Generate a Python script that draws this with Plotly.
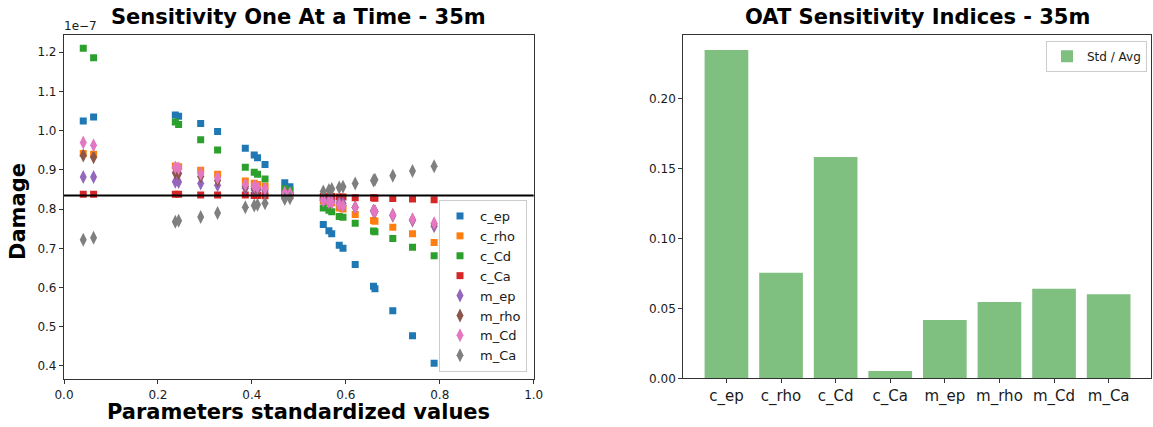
import plotly.graph_objects as go

# ---------------- data ----------------
x_std = [0.041, 0.063, 0.237, 0.244, 0.291, 0.327, 0.386, 0.405, 0.412, 0.428,
         0.470, 0.481, 0.552, 0.564, 0.570, 0.586, 0.594, 0.620, 0.659, 0.662,
         0.700, 0.742, 0.788]

c_ep = [1.025, 1.035, 1.040, 1.037, 1.018, 0.998, 0.955, 0.938, 0.931, 0.914,
        0.867, 0.857, 0.761, 0.745, 0.737, 0.708, 0.700, 0.659, 0.603, 0.597,
        0.541, 0.477, 0.407]
c_rho = [0.942, 0.940, 0.910, 0.908, 0.899, 0.889, 0.872, 0.866, 0.863, 0.858,
         0.846, 0.843, 0.822, 0.818, 0.816, 0.803, 0.800, 0.786, 0.771, 0.769,
         0.754, 0.737, 0.715]
c_Cd = [1.210, 1.186, 1.022, 1.016, 0.977, 0.951, 0.907, 0.894, 0.889, 0.877,
        0.852, 0.848, 0.803, 0.797, 0.793, 0.781, 0.779, 0.764, 0.744, 0.742,
        0.725, 0.703, 0.681]
c_Ca = [0.838, 0.838, 0.838, 0.838, 0.836, 0.836, 0.836, 0.835, 0.835, 0.834,
        0.834, 0.834, 0.832, 0.832, 0.832, 0.831, 0.831, 0.829, 0.829, 0.828,
        0.827, 0.826, 0.824]
m_ep = [0.882, 0.882, 0.870, 0.869, 0.865, 0.861, 0.853, 0.849, 0.848, 0.846,
        0.840, 0.838, 0.826, 0.823, 0.821, 0.816, 0.814, 0.805, 0.795, 0.794,
        0.783, 0.771, 0.756]
m_rho = [0.937, 0.932, 0.893, 0.891, 0.883, 0.873, 0.858, 0.853, 0.852, 0.849,
         0.840, 0.838, 0.822, 0.819, 0.817, 0.811, 0.809, 0.804, 0.796, 0.794,
         0.785, 0.773, 0.762]
m_Cd = [0.970, 0.963, 0.906, 0.904, 0.890, 0.880, 0.863, 0.858, 0.856, 0.852,
        0.842, 0.840, 0.822, 0.818, 0.816, 0.811, 0.808, 0.804, 0.796, 0.794,
        0.785, 0.774, 0.764]
m_Ca = [0.722, 0.727, 0.768, 0.770, 0.780, 0.790, 0.805, 0.809, 0.811, 0.815,
        0.826, 0.828, 0.845, 0.849, 0.851, 0.855, 0.857, 0.865, 0.873, 0.875,
        0.885, 0.897, 0.909]
reference_damage = 0.835

series_names = ["c_ep", "c_rho", "c_Cd", "c_Ca", "m_ep", "m_rho", "m_Cd", "m_Ca"]
series_values = [c_ep, c_rho, c_Cd, c_Ca, m_ep, m_rho, m_Cd, m_Ca]
series_colors = ["#1f77b4", "#ff7f0e", "#2ca02c", "#d62728",
                 "#9467bd", "#8c564b", "#e377c2", "#7f7f7f"]

bar_categories = ["c_ep", "c_rho", "c_Cd", "c_Ca", "m_ep", "m_rho", "m_Cd", "m_Ca"]
bar_values = [0.2348, 0.0755, 0.1583, 0.0052, 0.0417, 0.0546, 0.0641, 0.0601]

W, H = 1153, 427
FONT = "DejaVu Sans"

fig = go.Figure()

for name, vals, col in zip(series_names, series_values, series_colors):
    sym = "square" if name.startswith("c_") else "diamond-tall"
    size = 7 if sym == "square" else 10
    fig.add_trace(go.Scatter(
        x=x_std, y=vals, mode="markers", name=name,
        marker=dict(symbol=sym, size=size, color=col, line=dict(width=0)),
        xaxis="x", yaxis="y", legend="legend",
    ))

fig.add_trace(go.Bar(
    x=bar_categories, y=bar_values, name="Std / Avg",
    marker=dict(color="rgba(0,128,0,0.5)", line=dict(width=0)),
    width=0.8, xaxis="x2", yaxis="y2", legend="legend2",
))

def px_x(p):
    return p / W

def px_y(p):
    return 1 - p / H

axis_common = dict(
    showgrid=False, zeroline=False, showline=True, mirror=True, automargin=False,
    linecolor="#333333", linewidth=1.2, ticks="outside", ticklen=4,
    tickcolor="#333333", tickfont=dict(family=FONT, size=12, color="#1a1a1a"),
)

fig.update_layout(
    width=W, height=H,
    margin=dict(l=0, r=0, t=0, b=0, pad=0, autoexpand=False),
    paper_bgcolor="white", plot_bgcolor="white",
    font=dict(family=FONT, color="#000000"),
    xaxis=dict(domain=[px_x(64), px_x(533.7)], range=[0, 1],
               tickvals=[0, 0.2, 0.4, 0.6, 0.8, 1.0], tickformat=".1f",
               anchor="y", **axis_common),
    yaxis=dict(domain=[px_y(379.3), px_y(35)], range=[0.366, 1.244],
               tickvals=[0.4, 0.5, 0.6, 0.7, 0.8, 0.9, 1.0, 1.1, 1.2], tickformat=".1f",
               anchor="x", **axis_common),
    xaxis2=dict(domain=[px_x(683.3), px_x(1150.7)], range=[-0.79, 7.77],
                anchor="y2", **{**axis_common, "tickfont": dict(family=FONT, size=15, color="#1a1a1a")}),
    yaxis2=dict(domain=[px_y(378.3), px_y(34.7)], range=[0, 0.2458],
                tickvals=[0, 0.05, 0.10, 0.15, 0.20], tickformat=".2f",
                anchor="x2", **axis_common),
    legend=dict(
        x=px_x(527), y=px_y(372), xanchor="right", yanchor="bottom",
        bgcolor="rgba(255,255,255,0.85)", bordercolor="#cccccc", borderwidth=1,
        font=dict(family=FONT, size=13, color="#1a1a1a"),
        tracegroupgap=0, itemwidth=30,
    ),
    legend2=dict(
        x=px_x(1147), y=px_y(40.7), xanchor="right", yanchor="top",
        bgcolor="rgba(255,255,255,0.85)", bordercolor="#cccccc", borderwidth=1,
        font=dict(family=FONT, size=12, color="#1a1a1a"),
    ),
    shapes=[dict(type="line", xref="x domain", yref="y", x0=0, x1=1,
                 y0=reference_damage, y1=reference_damage,
                 line=dict(color="black", width=2))],
    annotations=[
        dict(text="<b>Sensitivity One At a Time - 35m</b>", xref="paper", yref="paper",
             x=px_x(299), y=px_y(17), xanchor="center", yanchor="middle",
             showarrow=False, font=dict(family=FONT, size=21, color="black")),
        dict(text="<b>OAT Sensitivity Indices - 35m</b>", xref="paper", yref="paper",
             x=px_x(917), y=px_y(17), xanchor="center", yanchor="middle",
             showarrow=False, font=dict(family=FONT, size=21, color="black")),
        dict(text="<b>Parameters standardized values</b>", xref="paper", yref="paper",
             x=px_x(299), y=px_y(412), xanchor="center", yanchor="middle",
             showarrow=False, font=dict(family=FONT, size=21, color="black")),
        dict(text="<b>Damage</b>", xref="paper", yref="paper", textangle=-90,
             x=px_x(18), y=px_y(212), xanchor="center", yanchor="middle",
             showarrow=False, font=dict(family=FONT, size=21, color="black")),
        dict(text="1e\u22127", xref="paper", yref="paper",
             x=px_x(62), y=px_y(26), xanchor="left", yanchor="middle",
             showarrow=False, font=dict(family=FONT, size=12, color="#1a1a1a")),
    ],
)

fig.write_html(
    "out.html",
    config={"displayModeBar": False},
    post_script="document.body.style.margin='0';document.body.style.overflow='hidden';",
)
